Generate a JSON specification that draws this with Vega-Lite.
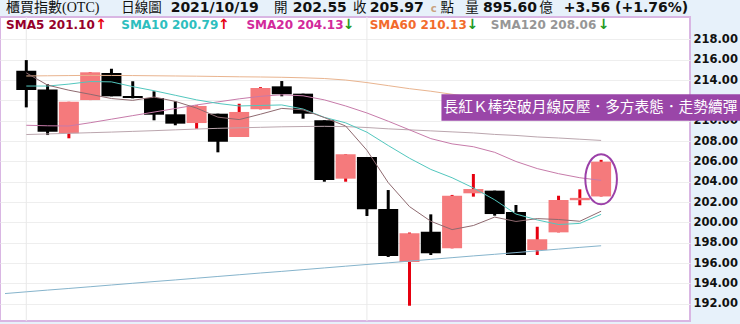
{
  "$schema": "https://vega.github.io/schema/vega-lite/v6.json",
  "width": 690,
  "height": 304,
  "autosize": "none",
  "padding": {"left": 0, "top": 17, "right": 50, "bottom": 3},
  "background": "#E7F1FA",
  "config": {
    "view": {"fill": "#FFFFFF", "stroke": "#D9B6E3", "strokeWidth": 2},
    "axisX": {"disable": true},
    "axisY": {"orient": "right", "ticks": false, "domain": false, "grid": true, "gridColor": "#EEEEEE",
              "labelFont": "DejaVu Sans", "labelFontWeight": "bold", "labelFontSize": 11.5, "labelOverlap": false,
              "labelColor": "#111111", "labelPadding": 3, "titleOpacity": 0}
  },
  "data": {"values": [
    {"i":0,"ma240":193.0},
    {"i":1,"o":214.91,"h":215.96,"l":211.31,"c":213.01,"ma5":214.7,"ma10":213.41,"ma20":209.55,"ma60":214.4,"ma120":208.64,"ma240":193.17},
    {"i":2,"o":213.08,"h":213.58,"l":208.59,"c":208.91,"ma5":213.5,"ma10":213.41,"ma20":209.5,"ma60":214.42,"ma120":208.7,"ma240":193.34},
    {"i":3,"o":208.76,"h":211.86,"l":208.27,"c":211.86,"ma5":213.0,"ma10":213.6,"ma20":209.48,"ma60":214.44,"ma120":208.76,"ma240":193.5},
    {"i":4,"o":212.03,"h":214.76,"l":212.03,"c":214.76,"ma5":212.6,"ma10":213.85,"ma20":209.8,"ma60":214.46,"ma120":208.82,"ma240":193.67},
    {"i":5,"o":214.69,"h":215.11,"l":212.4,"c":212.4,"ma5":212.18,"ma10":213.82,"ma20":210.15,"ma60":214.45,"ma120":208.88,"ma240":193.84},
    {"i":6,"o":212.43,"h":213.88,"l":212.2,"c":212.23,"ma5":212.0,"ma10":213.35,"ma20":210.5,"ma60":214.44,"ma120":208.95,"ma240":194.01},
    {"i":7,"o":212.23,"h":212.89,"l":210.04,"c":210.59,"ma5":212.33,"ma10":212.95,"ma20":210.85,"ma60":214.42,"ma120":209.02,"ma240":194.18},
    {"i":8,"o":210.63,"h":211.91,"l":209.55,"c":209.71,"ma5":211.9,"ma10":212.5,"ma20":211.2,"ma60":214.4,"ma120":209.1,"ma240":194.34},
    {"i":9,"o":209.77,"h":211.5,"l":209.21,"c":211.45,"ma5":211.24,"ma10":212.05,"ma20":211.55,"ma60":214.38,"ma120":209.18,"ma240":194.51},
    {"i":10,"o":210.69,"h":210.69,"l":206.89,"c":207.93,"ma5":210.35,"ma10":211.7,"ma20":211.85,"ma60":214.35,"ma120":209.25,"ma240":194.68},
    {"i":11,"o":208.4,"h":211.67,"l":208.4,"c":210.86,"ma5":210.11,"ma10":211.45,"ma20":212.15,"ma60":214.32,"ma120":209.3,"ma240":194.85},
    {"i":12,"o":211.12,"h":213.3,"l":211.12,"c":213.22,"ma5":210.64,"ma10":211.5,"ma20":212.4,"ma60":214.3,"ma120":209.35,"ma240":195.02},
    {"i":13,"o":213.38,"h":213.9,"l":212.4,"c":212.6,"ma5":211.21,"ma10":211.55,"ma20":212.55,"ma60":214.27,"ma120":209.4,"ma240":195.18},
    {"i":14,"o":212.66,"h":212.66,"l":210.2,"c":210.69,"ma5":211.07,"ma10":211.15,"ma20":212.45,"ma60":214.22,"ma120":209.43,"ma240":195.35},
    {"i":15,"o":210.04,"h":210.04,"l":204.0,"c":204.17,"ma5":210.31,"ma10":210.33,"ma20":212.05,"ma60":214.15,"ma120":209.45,"ma240":195.52},
    {"i":16,"o":204.3,"h":206.7,"l":204.0,"c":206.7,"ma5":209.48,"ma10":209.79,"ma20":211.45,"ma60":214.0,"ma120":209.42,"ma240":195.69},
    {"i":17,"o":206.43,"h":206.43,"l":200.63,"c":201.29,"ma5":207.09,"ma10":208.87,"ma20":210.76,"ma60":213.75,"ma120":209.33,"ma240":195.86},
    {"i":18,"o":201.32,"h":203.18,"l":196.6,"c":196.69,"ma5":203.91,"ma10":207.56,"ma20":209.95,"ma60":213.45,"ma120":209.2,"ma240":196.02},
    {"i":19,"o":196.1,"h":199.0,"l":191.8,"c":198.93,"ma5":201.55,"ma10":206.31,"ma20":209.1,"ma60":213.15,"ma120":209.1,"ma240":196.19},
    {"i":20,"o":199.08,"h":200.79,"l":196.79,"c":196.96,"ma5":200.11,"ma10":205.21,"ma20":208.24,"ma60":212.9,"ma120":209.0,"ma240":196.36},
    {"i":21,"o":197.45,"h":202.7,"l":197.45,"c":202.62,"ma5":199.29,"ma10":204.39,"ma20":207.72,"ma60":212.6,"ma120":208.9,"ma240":196.53},
    {"i":22,"o":202.86,"h":204.76,"l":202.53,"c":203.28,"ma5":199.69,"ma10":203.39,"ma20":207.44,"ma60":212.3,"ma120":208.8,"ma240":196.7},
    {"i":23,"o":203.12,"h":203.12,"l":200.66,"c":200.82,"ma5":200.52,"ma10":202.22,"ma20":206.89,"ma60":211.95,"ma120":208.65,"ma240":196.86},
    {"i":24,"o":201.02,"h":201.71,"l":196.79,"c":196.79,"ma5":200.09,"ma10":200.82,"ma20":205.99,"ma60":211.6,"ma120":208.55,"ma240":197.03},
    {"i":25,"o":197.28,"h":199.57,"l":196.79,"c":198.34,"ma5":200.37,"ma10":200.24,"ma20":205.29,"ma60":211.2,"ma120":208.4,"ma240":197.2},
    {"i":26,"o":199.02,"h":202.62,"l":199.02,"c":202.2,"ma5":200.28,"ma10":199.79,"ma20":204.79,"ma60":210.85,"ma120":208.3,"ma240":197.37},
    {"i":27,"o":202.18,"h":203.25,"l":201.68,"c":202.41,"ma5":200.11,"ma10":199.9,"ma20":204.39,"ma60":210.5,"ma120":208.18,"ma240":197.54},
    {"i":28,"o":202.55,"h":206.15,"l":202.55,"c":205.97,"ma5":201.1,"ma10":200.79,"ma20":204.13,"ma60":210.13,"ma120":208.06,"ma240":197.7}
  ]},
  "encoding": {
    "x": {"field": "i", "type": "quantitative", "title": null, "scale": {"domain": [0, 31.94], "nice": false, "zero": false}}
  },
  "layer": [
    {
      "transform": [{"filter": "datum.i == 1 || datum.i == 17"}],
      "mark": {"type": "rule", "color": "#E9E9E9", "strokeWidth": 1},
      "encoding": {}
    },
    {
      "transform": [{"filter": "isValid(datum.o)"}],
      "mark": {"type": "rule", "strokeWidth": 3},
      "encoding": {
        "y": {"field": "l", "type": "quantitative", "title": null,
              "scale": {"domain": [190.3, 220.2], "nice": false, "zero": false},
              "axis": {"values": [192,194,196,198,200,202,204,206,208,210,212,214,216,218], "format": ".2f"}},
        "y2": {"field": "h"},
        "color": {"condition": {"test": "datum.c >= datum.o", "value": "#E6000F"}, "value": "#000000"}
      }
    },
    {
      "transform": [{"filter": "isValid(datum.o)"}],
      "mark": {"type": "bar", "size": 20},
      "encoding": {
        "y": {"field": "o", "type": "quantitative", "title": null, "axis": {"values": [192,194,196,198,200,202,204,206,208,210,212,214,216,218], "format": ".2f"}},
        "y2": {"field": "c"},
        "color": {"condition": {"test": "datum.c >= datum.o", "value": "#F57A7C"}, "value": "#000000"}
      }
    },
    {"mark": {"type": "line", "color": "#86B4CC", "strokeWidth": 1}, "encoding": {"y": {"field": "ma240", "type": "quantitative", "title": null, "axis": {"values": [192,194,196,198,200,202,204,206,208,210,212,214,216,218], "format": ".2f"}}}},
    {"mark": {"type": "line", "color": "#BBA6AE", "strokeWidth": 1}, "encoding": {"y": {"field": "ma120", "type": "quantitative", "title": null, "axis": {"values": [192,194,196,198,200,202,204,206,208,210,212,214,216,218], "format": ".2f"}}}},
    {"mark": {"type": "line", "color": "#E9B48F", "strokeWidth": 1}, "encoding": {"y": {"field": "ma60", "type": "quantitative", "title": null, "axis": {"values": [192,194,196,198,200,202,204,206,208,210,212,214,216,218], "format": ".2f"}}}},
    {"mark": {"type": "line", "color": "#C77BAA", "strokeWidth": 1}, "encoding": {"y": {"field": "ma20", "type": "quantitative", "title": null, "axis": {"values": [192,194,196,198,200,202,204,206,208,210,212,214,216,218], "format": ".2f"}}}},
    {"mark": {"type": "line", "color": "#52C7BE", "strokeWidth": 1}, "encoding": {"y": {"field": "ma10", "type": "quantitative", "title": null, "axis": {"values": [192,194,196,198,200,202,204,206,208,210,212,214,216,218], "format": ".2f"}}}},
    {"mark": {"type": "line", "color": "#8F6A70", "strokeWidth": 1}, "encoding": {"y": {"field": "ma5", "type": "quantitative", "title": null, "axis": {"values": [192,194,196,198,200,202,204,206,208,210,212,214,216,218], "format": ".2f"}}}},
    {"transform": [{"filter": "datum.i == 28"}],
     "mark": {"type": "point", "shape": "M 0 -1 C 0.349 -1 0.632 -0.5523 0.632 0 C 0.632 0.5523 0.349 1 0 1 C -0.349 1 -0.632 0.5523 -0.632 0 C -0.632 -0.5523 -0.349 -1 0 -1 Z", "size": 2500, "filled": false, "color": "#9B40A8", "strokeWidth": 2, "opacity": 1},
     "encoding": {"y": {"datum": 204.24, "type": "quantitative", "axis": {"values": [192,194,196,198,200,202,204,206,208,210,212,214,216,218], "format": ".2f"}}}},
    {"transform": [{"filter": "datum.i == 28"}],
     "mark": {"type": "rect", "color": "#9A46A8"},
     "encoding": {"x": {"datum": 20.5, "type": "quantitative"}, "x2": {"datum": 35}, "y": {"datum": 212.6, "type": "quantitative", "axis": {"values": [192,194,196,198,200,202,204,206,208,210,212,214,216,218], "format": ".2f"}}, "y2": {"datum": 210.0}}},
    {"transform": [{"filter": "datum.i == 28"}],
     "mark": {"type": "text", "align": "left", "baseline": "middle", "font": "Noto Sans CJK TC", "fontSize": 14.7, "color": "#FFFFFF"},
     "encoding": {"x": {"datum": 20.6, "type": "quantitative"}, "y": {"datum": 211.28, "type": "quantitative", "axis": {"values": [192,194,196,198,200,202,204,206,208,210,212,214,216,218], "format": ".2f"}}, "text": {"value": "長紅Ｋ棒突破月線反壓．多方表態．走勢續彈"}}},
    {"transform": [{"filter": "datum.i == 28"}], "mark": {"type": "text", "align": "left", "baseline": "middle", "font": "Liberation Serif, Noto Sans CJK TC", "fontSize": 14, "color": "#111111"},
     "encoding": {"x": {"datum": 0.05, "type": "quantitative"}, "y": {"datum": 221.08, "type": "quantitative", "axis": {"values": [192,194,196,198,200,202,204,206,208,210,212,214,216,218], "format": ".2f"}}, "text": {"value": "櫃買指數(OTC)"}}},
    {"transform": [{"filter": "datum.i == 28"}], "mark": {"type": "text", "align": "left", "baseline": "middle", "font": "Liberation Serif, Noto Sans CJK TC", "fontSize": 13.5, "color": "#111111"},
     "encoding": {"x": {"datum": 5.46, "type": "quantitative"}, "y": {"datum": 221.08, "type": "quantitative", "axis": {"values": [192,194,196,198,200,202,204,206,208,210,212,214,216,218], "format": ".2f"}}, "text": {"value": "日線圖"}}},
    {"transform": [{"filter": "datum.i == 28"}], "mark": {"type": "text", "align": "left", "baseline": "middle", "font": "DejaVu Sans", "fontWeight": "bold", "fontSize": 14, "color": "#111111"},
     "encoding": {"x": {"datum": 7.78, "type": "quantitative"}, "y": {"datum": 221.08, "type": "quantitative", "axis": {"values": [192,194,196,198,200,202,204,206,208,210,212,214,216,218], "format": ".2f"}}, "text": {"value": "2021/10/19"}}},
    {"transform": [{"filter": "datum.i == 28"}], "mark": {"type": "text", "align": "left", "baseline": "middle", "font": "Liberation Serif, Noto Sans CJK TC", "fontSize": 13.5, "color": "#111111"},
     "encoding": {"x": {"datum": 12.64, "type": "quantitative"}, "y": {"datum": 221.08, "type": "quantitative", "axis": {"values": [192,194,196,198,200,202,204,206,208,210,212,214,216,218], "format": ".2f"}}, "text": {"value": "開"}}},
    {"transform": [{"filter": "datum.i == 28"}], "mark": {"type": "text", "align": "left", "baseline": "middle", "font": "DejaVu Sans", "fontWeight": "bold", "fontSize": 14, "color": "#111111"},
     "encoding": {"x": {"datum": 13.52, "type": "quantitative"}, "y": {"datum": 221.08, "type": "quantitative", "axis": {"values": [192,194,196,198,200,202,204,206,208,210,212,214,216,218], "format": ".2f"}}, "text": {"value": "202.55"}}},
    {"transform": [{"filter": "datum.i == 28"}], "mark": {"type": "text", "align": "left", "baseline": "middle", "font": "Liberation Serif, Noto Sans CJK TC", "fontSize": 13.5, "color": "#111111"},
     "encoding": {"x": {"datum": 16.34, "type": "quantitative"}, "y": {"datum": 221.08, "type": "quantitative", "axis": {"values": [192,194,196,198,200,202,204,206,208,210,212,214,216,218], "format": ".2f"}}, "text": {"value": "收"}}},
    {"transform": [{"filter": "datum.i == 28"}], "mark": {"type": "text", "align": "left", "baseline": "middle", "font": "DejaVu Sans", "fontWeight": "bold", "fontSize": 14, "color": "#111111"},
     "encoding": {"x": {"datum": 17.13, "type": "quantitative"}, "y": {"datum": 221.08, "type": "quantitative", "axis": {"values": [192,194,196,198,200,202,204,206,208,210,212,214,216,218], "format": ".2f"}}, "text": {"value": "205.97"}}},
    {"transform": [{"filter": "datum.i == 28"}], "mark": {"type": "text", "align": "left", "baseline": "middle", "font": "DejaVu Sans", "fontWeight": "bold", "fontSize": 10, "color": "#C9A27E"},
     "encoding": {"x": {"datum": 20.0, "type": "quantitative"}, "y": {"datum": 221.0, "type": "quantitative", "axis": {"values": [192,194,196,198,200,202,204,206,208,210,212,214,216,218], "format": ".2f"}}, "text": {"value": "c"}}},
    {"transform": [{"filter": "datum.i == 28"}], "mark": {"type": "text", "align": "left", "baseline": "middle", "font": "Liberation Serif, Noto Sans CJK TC", "fontSize": 13.5, "color": "#111111"},
     "encoding": {"x": {"datum": 20.46, "type": "quantitative"}, "y": {"datum": 221.08, "type": "quantitative", "axis": {"values": [192,194,196,198,200,202,204,206,208,210,212,214,216,218], "format": ".2f"}}, "text": {"value": "點"}}},
    {"transform": [{"filter": "datum.i == 28"}], "mark": {"type": "text", "align": "left", "baseline": "middle", "font": "Liberation Serif, Noto Sans CJK TC", "fontSize": 13.5, "color": "#111111"},
     "encoding": {"x": {"datum": 21.62, "type": "quantitative"}, "y": {"datum": 221.08, "type": "quantitative", "axis": {"values": [192,194,196,198,200,202,204,206,208,210,212,214,216,218], "format": ".2f"}}, "text": {"value": "量"}}},
    {"transform": [{"filter": "datum.i == 28"}], "mark": {"type": "text", "align": "left", "baseline": "middle", "font": "DejaVu Sans", "fontWeight": "bold", "fontSize": 14, "color": "#111111"},
     "encoding": {"x": {"datum": 22.45, "type": "quantitative"}, "y": {"datum": 221.08, "type": "quantitative", "axis": {"values": [192,194,196,198,200,202,204,206,208,210,212,214,216,218], "format": ".2f"}}, "text": {"value": "895.60"}}},
    {"transform": [{"filter": "datum.i == 28"}], "mark": {"type": "text", "align": "left", "baseline": "middle", "font": "Liberation Serif, Noto Sans CJK TC", "fontSize": 13.5, "color": "#111111"},
     "encoding": {"x": {"datum": 25.09, "type": "quantitative"}, "y": {"datum": 221.08, "type": "quantitative", "axis": {"values": [192,194,196,198,200,202,204,206,208,210,212,214,216,218], "format": ".2f"}}, "text": {"value": "億"}}},
    {"transform": [{"filter": "datum.i == 28"}], "mark": {"type": "text", "align": "left", "baseline": "middle", "font": "DejaVu Sans", "fontWeight": "bold", "fontSize": 14, "color": "#111111"},
     "encoding": {"x": {"datum": 26.25, "type": "quantitative"}, "y": {"datum": 221.08, "type": "quantitative", "axis": {"values": [192,194,196,198,200,202,204,206,208,210,212,214,216,218], "format": ".2f"}}, "text": {"value": "+3.56 (+1.76%)"}}},
    {"transform": [{"filter": "datum.i == 28"}], "mark": {"type": "text", "align": "left", "baseline": "middle", "font": "DejaVu Sans", "fontWeight": "bold", "fontSize": 12, "color": "#96002A"},
     "encoding": {"x": {"datum": 0.05, "type": "quantitative"}, "y": {"datum": 219.41, "type": "quantitative", "axis": {"values": [192,194,196,198,200,202,204,206,208,210,212,214,216,218], "format": ".2f"}}, "text": {"value": "SMA5 201.10"}}},
    {"transform": [{"filter": "datum.i == 28"}], "mark": {"type": "text", "align": "left", "baseline": "middle", "font": "DejaVu Sans", "fontWeight": "bold", "fontSize": 14, "color": "#E6000F"},
     "encoding": {"x": {"datum": 4.24, "type": "quantitative"}, "y": {"datum": 219.41, "type": "quantitative", "axis": {"values": [192,194,196,198,200,202,204,206,208,210,212,214,216,218], "format": ".2f"}}, "text": {"value": "↑"}}},
    {"transform": [{"filter": "datum.i == 28"}], "mark": {"type": "text", "align": "left", "baseline": "middle", "font": "DejaVu Sans", "fontWeight": "bold", "fontSize": 12, "color": "#2DBEBE"},
     "encoding": {"x": {"datum": 5.46, "type": "quantitative"}, "y": {"datum": 219.41, "type": "quantitative", "axis": {"values": [192,194,196,198,200,202,204,206,208,210,212,214,216,218], "format": ".2f"}}, "text": {"value": "SMA10 200.79"}}},
    {"transform": [{"filter": "datum.i == 28"}], "mark": {"type": "text", "align": "left", "baseline": "middle", "font": "DejaVu Sans", "fontWeight": "bold", "fontSize": 14, "color": "#E6000F"},
     "encoding": {"x": {"datum": 10.0, "type": "quantitative"}, "y": {"datum": 219.41, "type": "quantitative", "axis": {"values": [192,194,196,198,200,202,204,206,208,210,212,214,216,218], "format": ".2f"}}, "text": {"value": "↑"}}},
    {"transform": [{"filter": "datum.i == 28"}], "mark": {"type": "text", "align": "left", "baseline": "middle", "font": "DejaVu Sans", "fontWeight": "bold", "fontSize": 12, "color": "#D2299B"},
     "encoding": {"x": {"datum": 11.34, "type": "quantitative"}, "y": {"datum": 219.41, "type": "quantitative", "axis": {"values": [192,194,196,198,200,202,204,206,208,210,212,214,216,218], "format": ".2f"}}, "text": {"value": "SMA20 204.13"}}},
    {"transform": [{"filter": "datum.i == 28"}], "mark": {"type": "text", "align": "left", "baseline": "middle", "font": "DejaVu Sans", "fontWeight": "bold", "fontSize": 14, "color": "#1E9A1E"},
     "encoding": {"x": {"datum": 15.86, "type": "quantitative"}, "y": {"datum": 219.41, "type": "quantitative", "axis": {"values": [192,194,196,198,200,202,204,206,208,210,212,214,216,218], "format": ".2f"}}, "text": {"value": "↓"}}},
    {"transform": [{"filter": "datum.i == 28"}], "mark": {"type": "text", "align": "left", "baseline": "middle", "font": "DejaVu Sans", "fontWeight": "bold", "fontSize": 12, "color": "#F26B2C"},
     "encoding": {"x": {"datum": 17.13, "type": "quantitative"}, "y": {"datum": 219.41, "type": "quantitative", "axis": {"values": [192,194,196,198,200,202,204,206,208,210,212,214,216,218], "format": ".2f"}}, "text": {"value": "SMA60 210.13"}}},
    {"transform": [{"filter": "datum.i == 28"}], "mark": {"type": "text", "align": "left", "baseline": "middle", "font": "DejaVu Sans", "fontWeight": "bold", "fontSize": 14, "color": "#1E9A1E"},
     "encoding": {"x": {"datum": 21.68, "type": "quantitative"}, "y": {"datum": 219.41, "type": "quantitative", "axis": {"values": [192,194,196,198,200,202,204,206,208,210,212,214,216,218], "format": ".2f"}}, "text": {"value": "↓"}}},
    {"transform": [{"filter": "datum.i == 28"}], "mark": {"type": "text", "align": "left", "baseline": "middle", "font": "DejaVu Sans", "fontWeight": "bold", "fontSize": 12, "color": "#969696"},
     "encoding": {"x": {"datum": 22.82, "type": "quantitative"}, "y": {"datum": 219.41, "type": "quantitative", "axis": {"values": [192,194,196,198,200,202,204,206,208,210,212,214,216,218], "format": ".2f"}}, "text": {"value": "SMA120 208.06"}}},
    {"transform": [{"filter": "datum.i == 28"}], "mark": {"type": "text", "align": "left", "baseline": "middle", "font": "DejaVu Sans", "fontWeight": "bold", "fontSize": 14, "color": "#1E9A1E"},
     "encoding": {"x": {"datum": 27.84, "type": "quantitative"}, "y": {"datum": 219.41, "type": "quantitative", "axis": {"values": [192,194,196,198,200,202,204,206,208,210,212,214,216,218], "format": ".2f"}}, "text": {"value": "↓"}}}
  ]
}
